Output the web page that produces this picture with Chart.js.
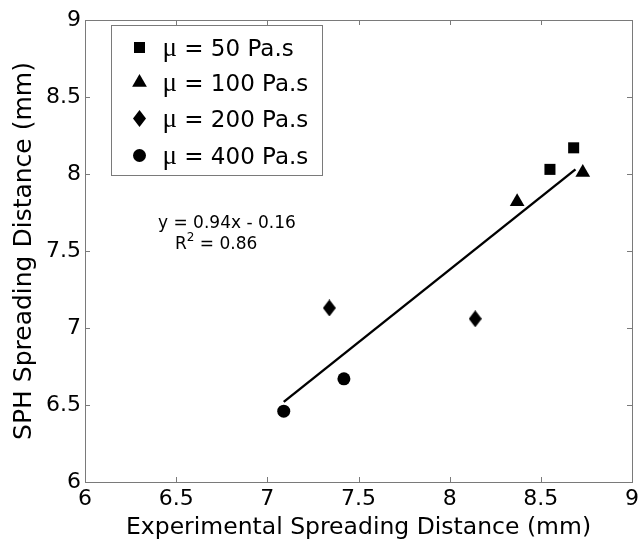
<!DOCTYPE html>
<html>
<head>
<meta charset="utf-8">
<script src="https://cdn.jsdelivr.net/npm/chart.js@4.4.1/dist/chart.umd.min.js"></script>
<style>
  html, body { margin: 0; padding: 0; background: #fff; }
  #wrap { width: 643px; height: 541px; }
</style>
</head>
<body>
<div id="wrap"><canvas id="spreadChart" width="643" height="541"></canvas></div>
<script>
// values (mm)
const viscosityLabels = ['50', '100', '200', '400'];
const mu50X = [8.55, 8.68];
const mu50Y = [8.03, 8.17];
const mu100X = [8.37, 8.73];
const mu100Y = [7.82, 8.01];
const mu200X = [7.34, 8.14];
const mu200Y = [7.13, 7.06];
const mu400X = [7.09, 7.42];
const mu400Y = [6.46, 6.67];
// fitted line end points
const fitX = [7.09, 8.69];
const fitY = [6.52, 8.03];
const fitText = 'y = 0.94x - 0.16';
const r2Text = '0.86';
const tickValues = [6, 6.5, 7, 7.5, 8, 8.5, 9];

const axisColor = '#7a7a7a';
const sansFont = '"DejaVu Sans", sans-serif';

function pts(xs, ys) {
    return xs.map((x, i) => ({ x: x, y: ys[i] }));
}

// narrow diamond marker like matlab's 'd'
const diamond = document.createElement('canvas');
diamond.width = 13;
diamond.height = 17;
(function() {
    const c = diamond.getContext('2d');
    c.fillStyle = '#000';
    c.beginPath();
    c.moveTo(6.5, 0);
    c.lineTo(13, 8.5);
    c.lineTo(6.5, 17);
    c.lineTo(0, 8.5);
    c.closePath();
    c.fill();
})();

const markerStyles = [
    { pointStyle: 'rect', pointRadius: 7.8 },
    { pointStyle: 'triangle', pointRadius: 8.5 },
    { pointStyle: diamond, pointRadius: 7 },
    { pointStyle: 'circle', pointRadius: 6.5 }
];
const seriesX = [mu50X, mu100X, mu200X, mu400X];
const seriesY = [mu50Y, mu100Y, mu200Y, mu400Y];

const datasets = viscosityLabels.map((lab, i) => ({
    label: '\u03bc = ' + lab + ' Pa.s',
    data: pts(seriesX[i], seriesY[i]),
    pointStyle: markerStyles[i].pointStyle,
    pointRadius: markerStyles[i].pointRadius,
    pointHoverRadius: markerStyles[i].pointRadius,
    backgroundColor: '#000',
    borderColor: '#000',
    borderWidth: 0
}));
datasets.push({
    label: 'fit',
    type: 'line',
    data: pts(fitX, fitY),
    showLine: true,
    pointRadius: 0,
    borderColor: '#000',
    borderWidth: 2.4,
    fill: false
});

// box, inward ticks, legend and fit text
const decorations = {
    id: 'decorations',
    afterDraw(chart) {
        const ctx = chart.ctx;
        const a = chart.chartArea;
        const xs = chart.scales.x, ys = chart.scales.y;
        ctx.save();
        ctx.strokeStyle = axisColor;
        ctx.lineWidth = 1;
        ctx.beginPath();
        tickValues.forEach(v => {
            const px = Math.round(xs.getPixelForValue(v)) + 0.5;
            ctx.moveTo(px, a.bottom); ctx.lineTo(px, a.bottom - 5);
            ctx.moveTo(px, a.top); ctx.lineTo(px, a.top + 5);
            const py = Math.round(ys.getPixelForValue(v)) + 0.5;
            ctx.moveTo(a.left, py); ctx.lineTo(a.left + 5, py);
            ctx.moveTo(a.right, py); ctx.lineTo(a.right - 5, py);
        });
        ctx.stroke();
        ctx.strokeRect(Math.round(a.left) + 0.5, Math.round(a.top) + 0.5,
            Math.round(a.right - a.left), Math.round(a.bottom - a.top));

        // legend
        const bx = a.left + 26.5, by = a.top + 5.5, bw = 211, bh = 150;
        ctx.fillStyle = '#fff';
        ctx.fillRect(bx, by, bw, bh);
        ctx.strokeRect(bx, by, bw, bh);
        const rows = [22, 57, 93, 130];
        chart.data.datasets.slice(0, 4).forEach((ds, i) => {
            const cy = by + rows[i];
            ctx.fillStyle = '#000';
            Chart.helpers.drawPoint(ctx, {
                pointStyle: ds.pointStyle,
                radius: ds.pointRadius,
                rotation: 0,
                borderWidth: 0
            }, bx + 28, cy);
            ctx.textBaseline = 'alphabetic';
            ctx.textAlign = 'left';
            ctx.font = '27px "Liberation Serif", serif';
            ctx.fillText('\u03bc', bx + 51, cy + 8);
            const w = ctx.measureText('\u03bc').width;
            ctx.font = '23px ' + sansFont;
            ctx.fillText(' = ' + viscosityLabels[i] + ' Pa.s', bx + 51 + w, cy + 8);
        });

        // fit equation
        ctx.fillStyle = '#000';
        ctx.font = '17px ' + sansFont;
        ctx.fillText(fitText, 158, 228);
        ctx.fillText('R', 175, 249);
        const rw = ctx.measureText('R').width;
        ctx.font = '12px ' + sansFont;
        ctx.fillText('2', 175 + rw, 241);
        const sw = ctx.measureText('2').width;
        ctx.font = '17px ' + sansFont;
        ctx.fillText(' = ' + r2Text, 175 + rw + sw, 249);
        ctx.restore();
    }
};

const ctx = document.getElementById('spreadChart').getContext('2d');
const spreadChart = new Chart(ctx, {
    type: 'scatter',
    data: { datasets: datasets },
    options: {
        responsive: false,
        animation: false,
        devicePixelRatio: 1,
        layout: { padding: { top: 20, right: 8, left: 0, bottom: 0 } },
        plugins: {
            legend: { display: false },
            tooltip: { enabled: false }
        },
        scales: {
            x: {
                type: 'linear',
                min: 6,
                max: 9,
                afterBuildTicks: function(scale) {
                    scale.ticks = tickValues.map(v => ({ value: v }));
                },
                afterFit: function(scale) { scale.height = 59; },
                grid: { display: false, drawTicks: false },
                border: { display: false },
                ticks: {
                    padding: 4,
                    color: '#000',
                    maxRotation: 0,
                    font: { family: sansFont, size: 22 },
                    callback: v => String(v)
                },
                title: {
                    display: true,
                    text: 'Experimental Spreading Distance (mm)',
                    color: '#000',
                    font: { family: sansFont, size: 23.5, lineHeight: 1 },
                    padding: { top: 0, bottom: 1 }
                }
            },
            y: {
                type: 'linear',
                min: 6,
                max: 9,
                afterBuildTicks: function(scale) {
                    scale.ticks = tickValues.map(v => ({ value: v }));
                },
                afterFit: function(scale) { scale.width = 85; },
                grid: { display: false, drawTicks: false },
                border: { display: false },
                ticks: {
                    padding: 4,
                    color: '#000',
                    font: { family: sansFont, size: 22 },
                    callback: v => String(v)
                },
                title: {
                    display: true,
                    text: 'SPH Spreading Distance (mm)',
                    color: '#000',
                    font: { family: sansFont, size: 25, lineHeight: 1 },
                    padding: { top: 12, bottom: 0 }
                }
            }
        }
    },
    plugins: [decorations]
});
</script>
</body>
</html>
